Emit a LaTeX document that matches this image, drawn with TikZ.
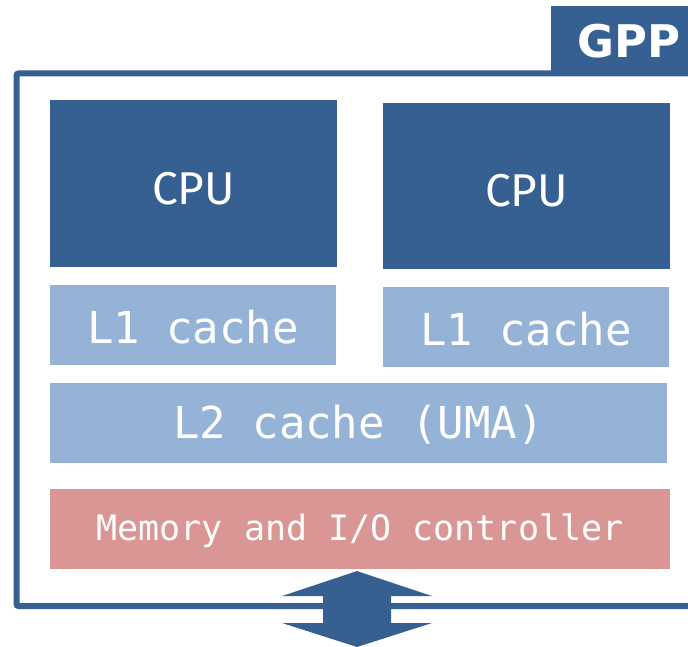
\documentclass[tikz,border=0pt]{standalone}
\usepackage{fontspec}
\setsansfont{Fira Sans}
\setmonofont{DejaVu Sans Mono}
\newfontfamily\tabfont{DejaVu Sans}
\usetikzlibrary{positioning}
\definecolor{gppblue}{HTML}{376092}
\definecolor{cacheblue}{HTML}{95B3D7}
\definecolor{ctrlpink}{HTML}{DA9694}
\newcommand{\lowered}[2]{\raisebox{-#1}[\height][\depth]{#2}}
\tikzset
{
    cpubox/.style   = {rectangle, fill=gppblue, text=white, inner sep=0pt, font=\sffamily\fontsize{46}{46}\selectfont},
    cachebox/.style = {rectangle, fill=cacheblue, text=white, inner sep=0pt, font=\ttfamily\fontsize{44}{44}\selectfont},
    ctrlbox/.style  = {rectangle, fill=ctrlpink, text=white, inner sep=0pt, font=\ttfamily\fontsize{35}{35}\selectfont}
}

\begin{document}
\begin{tikzpicture}[x=1pt, y=-1pt]
\useasboundingbox (0,0) rectangle (688,647);
% outer frame and tab
\draw[gppblue, line width=6pt, rounded corners=2pt] (700,73.5) -- (16.5,73.5) -- (16.5,606) -- (700,606);
\node[cpubox, font=\tabfont\bfseries\fontsize{45}{45}\selectfont, minimum width=139pt, minimum height=69pt, anchor=north west] (gpp) at (551,6) {\hspace*{16pt}GPP};
% cores
\node[cpubox, minimum width=287pt, minimum height=167pt] (cpua) at (193.5,183.5) {\lowered{5pt}{CPU}};
\node[cpubox, minimum width=287pt, minimum height=166pt] (cpub) at (526.5,186) {\lowered{5pt}{CPU}};
\node[cachebox, minimum width=286pt, minimum height=80pt] (lonea) at (193,325) {\lowered{2pt}{L1 cache}};
\node[cachebox, minimum width=286pt, minimum height=80pt] (loneb) at (526,327) {\lowered{2pt}{L1 cache}};
\node[cachebox, minimum width=617pt, minimum height=80pt] (ltwo) at (358.5,423) {\lowered{2pt}{L2 cache (UMA)}};
\node[ctrlbox, minimum width=620pt, minimum height=80pt] (ctrl) at (360,529) {\lowered{2pt}{Memory and I/O controller}};
% bus arrow
\fill[gppblue] (357,571) -- (282,596) -- (323,596) -- (323,623) -- (282,623) -- (357,647)
    -- (432,623) -- (391,623) -- (391,596) -- (432,596) -- cycle;
\end{tikzpicture}
\end{document}
